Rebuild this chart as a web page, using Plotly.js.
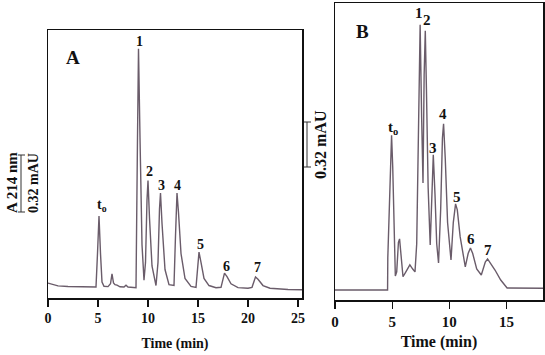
<!DOCTYPE html>
<html>
<head>
<meta charset="utf-8">
<script src="https://cdn.plot.ly/plotly-3.0.1.min.js"></script>
<style>
  html, body { margin: 0; padding: 0; background: #fff; }
  #chart { width: 545px; height: 355px; }
</style>
</head>
<body>
<div id="chart"></div>
<script>
// Chromatogram A (time in min, absorbance in mAU)
var timeA = [0, 0.5, 1, 2, 3, 4, 4.8, 4.95, 5.1, 5.25, 5.4, 5.6, 6.0, 6.25, 6.4, 6.55, 6.7, 6.9, 7.2, 7.6, 7.8, 8.0, 8.4, 8.8,
  8.95, 9.05, 9.2, 9.4, 9.6, 9.75, 9.9, 10.0, 10.15, 10.4, 10.8, 11.0, 11.15, 11.25, 11.4, 11.7, 12.1, 12.6, 12.75, 12.9,
  13.05, 13.3, 13.7, 14.3, 14.8, 14.95, 15.1, 15.3, 15.6, 16.1, 16.8, 17.3, 17.5, 17.65, 17.9, 18.3, 19.0, 20.0, 20.4,
  20.6, 20.75, 21.0, 21.5, 22.2, 23.0, 24.0, 25.4];
var absA = [0.084, 0.075, 0.068, 0.065, 0.063, 0.062, 0.062, 0.25, 0.46, 0.25, 0.09, 0.066, 0.064, 0.08, 0.135, 0.085,
  0.075, 0.072, 0.063, 0.062, 0.072, 0.062, 0.058, 0.058, 0.9, 1.40, 0.9, 0.3, 0.1, 0.2, 0.55, 0.66, 0.45, 0.18, 0.07,
  0.2, 0.5, 0.59, 0.42, 0.16, 0.075, 0.07, 0.35, 0.59, 0.48, 0.25, 0.11, 0.065, 0.06, 0.17, 0.258, 0.2, 0.11, 0.07,
  0.058, 0.06, 0.11, 0.14, 0.12, 0.08, 0.058, 0.055, 0.06, 0.1, 0.118, 0.105, 0.07, 0.055, 0.05, 0.048, 0.046];

// Chromatogram B
var timeB = [0, 4.6, 4.62, 4.75, 4.88, 4.95, 5.05, 5.15, 5.28, 5.4, 5.55, 5.65, 5.78, 5.95, 6.2, 6.55, 6.8, 7.0, 7.15,
  7.3, 7.45, 7.58, 7.7, 7.8, 7.9, 8.0, 8.15, 8.33, 8.45, 8.6, 8.75, 8.9, 9.06, 9.25, 9.4, 9.5, 9.65, 9.85, 10.15, 10.35,
  10.55, 10.7, 10.95, 11.4, 11.65, 11.85, 12.05, 12.4, 12.8, 13.0, 13.15, 13.35, 13.55, 14.0, 14.5, 15.06, 18.2];
var absB = [0.071, 0.071, 0.3, 0.65, 1.1, 1.17, 0.95, 0.55, 0.17, 0.2, 0.41, 0.434, 0.3, 0.165, 0.2, 0.25, 0.22, 0.2,
  0.4, 1.3, 1.956, 1.3, 0.832, 1.6, 1.913, 1.5, 0.8, 0.39, 0.75, 1.031, 0.75, 0.4, 0.263, 0.65, 1.15, 1.252, 1.0, 0.55,
  0.284, 0.55, 0.683, 0.64, 0.45, 0.235, 0.33, 0.37, 0.33, 0.22, 0.178, 0.235, 0.27, 0.292, 0.27, 0.213, 0.142, 0.085,
  0.083];

// Peak labels
var peakNames = ['t<sub>o</sub>', '1', '2', '3', '4', '5', '6', '7'];
var labelTimeA = [5.4, 9.1, 10.1, 11.3, 12.9, 15.2, 17.8, 20.9];
var labelAbsA = [0.52, 1.44, 0.71, 0.635, 0.635, 0.30, 0.175, 0.17];
var labelTimeB = [5.09, 7.37, 8.07, 8.6, 9.47, 10.7, 11.93, 13.42];
var labelAbsB = [1.22, 2.04, 1.99, 1.08, 1.32, 0.73, 0.43, 0.355];

var ink = '#6a5c6a';
var serif = 'Liberation Serif, Times New Roman, serif';

var traces = [
  { x: timeA, y: absA, xaxis: 'x', yaxis: 'y', type: 'scatter', mode: 'lines',
    line: { color: ink, width: 1.4 }, hoverinfo: 'skip' },
  { x: timeB, y: absB, xaxis: 'x2', yaxis: 'y2', type: 'scatter', mode: 'lines',
    line: { color: ink, width: 1.4 }, hoverinfo: 'skip' }
];

function boxAxis(extra) {
  var ax = {
    showline: true, mirror: true, linecolor: '#111', linewidth: 1.5,
    showgrid: false, zeroline: false, fixedrange: true
  };
  for (var k in extra) ax[k] = extra[k];
  return ax;
}

function bold(size) {
  return { family: serif, size: size, color: '#111', weight: 700 };
}

var annotations = [];
peakNames.forEach(function(name, i) {
  annotations.push({ xref: 'x', yref: 'y', x: labelTimeA[i], y: labelAbsA[i], text: name,
    showarrow: false, font: bold(14) });
  annotations.push({ xref: 'x2', yref: 'y2', x: labelTimeB[i], y: labelAbsB[i], text: name,
    showarrow: false, font: bold(15) });
});
annotations.push({ xref: 'x', yref: 'y', x: 2.5, y: 1.35, text: 'A', showarrow: false, font: bold(19) });
annotations.push({ xref: 'x2', yref: 'y2', x: 2.37, y: 1.906, text: 'B', showarrow: false, font: bold(19) });
// scale bar texts
annotations.push({ xref: 'paper', yref: 'paper', x: 12 / 545, y: 1 - 183 / 355, xanchor: 'center', yanchor: 'middle',
  textangle: -90, text: 'A 214 nm', showarrow: false, font: bold(15) });
annotations.push({ xref: 'paper', yref: 'paper', x: 33 / 545, y: 1 - 183 / 355, xanchor: 'center', yanchor: 'middle',
  textangle: -90, text: '0.32 mAU', showarrow: false, font: bold(14) });
annotations.push({ xref: 'paper', yref: 'paper', x: 320 / 545, y: 1 - 145 / 355, xanchor: 'center', yanchor: 'middle',
  textangle: -90, text: '0.32 mAU', showarrow: false, font: bold(16) });

function bracket(xc, y0, y1) {
  var s = { type: 'line', xref: 'paper', yref: 'paper', line: { color: '#333', width: 1 } };
  var out = [];
  out.push(Object.assign({}, s, { x0: xc / 545, x1: xc / 545, y0: 1 - y0 / 355, y1: 1 - y1 / 355 }));
  out.push(Object.assign({}, s, { x0: (xc - 3) / 545, x1: (xc + 4) / 545, y0: 1 - y0 / 355, y1: 1 - y0 / 355 }));
  out.push(Object.assign({}, s, { x0: (xc - 3) / 545, x1: (xc + 4) / 545, y0: 1 - y1 / 355, y1: 1 - y1 / 355 }));
  return out;
}
var shapes = bracket(21, 155, 212).concat(bracket(307, 122, 167));

var layout = {
  width: 545, height: 355,
  margin: { l: 0, r: 0, t: 0, b: 0 },
  paper_bgcolor: '#fff', plot_bgcolor: '#fff',
  showlegend: false,
  xaxis: boxAxis({
    domain: [48 / 545, 302 / 545], range: [0, 25.4], anchor: 'y',
    tickvals: [0, 5, 10, 15, 20, 25], ticks: 'outside', ticklen: 7, tickwidth: 1.2, tickcolor: '#111',
    tickfont: bold(14),
    title: { text: 'Time (min)', standoff: 13, font: bold(14) }
  }),
  yaxis: boxAxis({
    domain: [1 - 298 / 355, 1 - 30 / 355], range: [0, 1.506], anchor: 'x',
    showticklabels: false, ticks: ''
  }),
  xaxis2: boxAxis({
    domain: [335 / 545, 543 / 545], range: [0, 18.2], anchor: 'y2',
    tickvals: [0, 5, 10, 15], ticks: 'outside', ticklen: 7, tickwidth: 1.2, tickcolor: '#111',
    tickfont: bold(15),
    title: { text: 'Time (min)', standoff: 7, font: bold(16) }
  }),
  yaxis2: boxAxis({
    domain: [1 - 300 / 355, 1 - 3 / 355], range: [0, 2.11], anchor: 'x2',
    showticklabels: false, ticks: ''
  }),
  annotations: annotations,
  shapes: shapes
};

Plotly.newPlot('chart', traces, layout, { displayModeBar: false, staticPlot: true });
</script>
</body>
</html>
